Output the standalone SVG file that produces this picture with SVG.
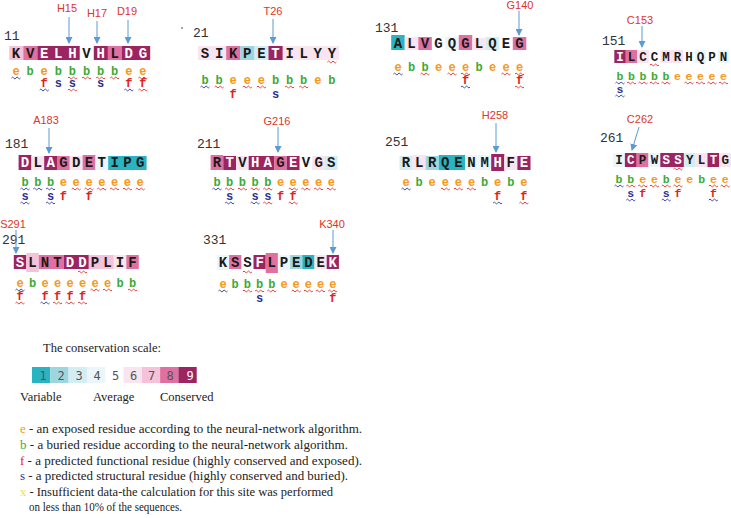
<svg xmlns="http://www.w3.org/2000/svg" xmlns:xlink="http://www.w3.org/1999/xlink" width="731" height="518" viewBox="0 0 731 518">
<style>
.num{font-family:"Liberation Mono",monospace;font-size:13px;fill:#333}
.res{font-family:"Liberation Mono",monospace;font-weight:bold;font-size:14px;fill:#1a1a1a;text-anchor:middle}
.sm{font-size:12.5px}
.w{fill:#fff}
.sym{font-family:"Liberation Mono",monospace;font-weight:bold;font-size:12px;text-anchor:middle}
.sym.sm{font-size:11.5px}
.e{fill:#f39a1e}.b{fill:#3daa36}.f{fill:#e2231a}.s{fill:#2e3192}.x{fill:#eee24a}
.lab{font-family:"Liberation Sans",sans-serif;font-size:11px;fill:#e0352b;text-anchor:middle}
.arr{stroke:#5b9bd5;stroke-width:1;fill:none;marker-end:url(#ah)}
.wr{stroke:#e0403a}.wb{stroke:#3a4aa8}
.g1{fill:#2ab3c0}.g2{fill:#9ed6df}.g3{fill:#d3edf2}.g4{fill:#eaf6f9}.g6{fill:#f8e5ef}.g7{fill:#f4c3da}.g8{fill:#e0709f}.g9{fill:#9b2461}
.leg{font-family:"Liberation Serif",serif;font-size:12.5px;fill:#222}
.sc{font-family:"DejaVu Sans Mono",monospace;font-size:12px;fill:#555;text-anchor:middle}
</style>
<defs>
<marker id="ah" markerWidth="7" markerHeight="7" refX="6" refY="3.5" orient="auto" markerUnits="userSpaceOnUse"><path d="M0,0 L7,3.5 L0,7 Z" fill="#5b9bd5"/></marker>
<path id="wv" d="M-4.5 0 q1.125 -1.8 2.25 0 t2.25 0 t2.25 0 t2.25 0" fill="none" stroke-width="1"/>
</defs>

<circle cx="182" cy="28" r="1" fill="#888"/>

<!-- Block 11 -->
<g id="blk11">
<text class="num" x="4" y="40">11</text>
<rect class="g7" x="9.2" y="46" width="14.1" height="14"/>
<rect class="g8" x="23.3" y="46" width="14.1" height="14"/>
<rect class="g9" x="37.4" y="46" width="42.3" height="14"/>
<rect class="g9" x="93.8" y="46" width="14.1" height="14"/>
<rect class="g8" x="107.9" y="46" width="14.1" height="14"/>
<rect class="g9" x="122" y="46" width="28.2" height="14"/>
<text class="res" x="16 30.1 86.5 114.7" y="58">KVVL</text>
<text class="res w" x="44.2 58.3 72.4 100.6 128.8 142.9" y="58">ELHHDG</text>
<text class="sym e" x="16 44.2 128.8 142.9" y="75">eeee</text>
<text class="sym b" x="30.1 58.3 72.4 86.5 100.6 114.7" y="75">bbbbbb</text>
<use xlink:href="#wv" class="wb" x="16" y="78"/>
<use xlink:href="#wv" class="wr" x="72.4" y="78"/><use xlink:href="#wv" class="wr" x="86.5" y="78"/><use xlink:href="#wv" class="wr" x="100.6" y="78"/><use xlink:href="#wv" class="wr" x="114.7" y="78"/><use xlink:href="#wv" class="wr" x="142.9" y="78"/>
<text class="sym f" x="44.2 128.8 142.9" y="87">fff</text>
<text class="sym s" x="58.3 72.4 100.6" y="87">sss</text>
<use xlink:href="#wv" class="wb" x="44.2" y="90"/><use xlink:href="#wv" class="wr" x="72.4" y="90"/><use xlink:href="#wv" class="wb" x="128.8" y="90"/><use xlink:href="#wv" class="wr" x="142.9" y="90"/>
</g>

<!-- Block 21 -->
<g id="blk21">
<text class="num" x="193" y="37">21</text>
<rect class="g6" x="198" y="46" width="141" height="14"/>
<rect class="g8" x="226.2" y="46" width="14.1" height="14"/>
<rect class="g2" x="240.3" y="46" width="14.1" height="14"/>
<rect class="g3" x="254.4" y="46" width="14.1" height="14"/>
<rect class="g9" x="268.5" y="46" width="14.1" height="14"/>
<text class="res" x="205 219.1 233.2 247.3 261.4 289.6 303.7 317.8 331.9" y="58">SIKPEILYY</text>
<text class="res w" x="275.5" y="58">T</text>
<use xlink:href="#wv" class="wr" x="331.9" y="62"/>
<text class="sym e" x="233.2 247.3 261.4 317.8" y="84">eeee</text>
<text class="sym b" x="205 219.1 275.5 289.6 303.7 331.9" y="84">bbbbbb</text>
<use xlink:href="#wv" class="wb" x="205" y="87"/><use xlink:href="#wv" class="wr" x="219.1" y="87"/><use xlink:href="#wv" class="wr" x="247.3" y="87"/><use xlink:href="#wv" class="wr" x="261.4" y="87"/><use xlink:href="#wv" class="wr" x="289.6" y="87"/><use xlink:href="#wv" class="wr" x="303.7" y="87"/>
<text class="sym f" x="233.2" y="98">f</text>
<text class="sym s" x="275.5" y="98">s</text>
</g>

<!-- Block 131 -->
<g id="blk131">
<text class="num" x="375" y="32">131</text>
<rect class="g1" x="391.2" y="35" width="13.5" height="15"/>
<rect class="g6" x="404.8" y="37" width="13.5" height="13"/>
<rect class="g8" x="418.3" y="37" width="13.5" height="13"/>
<rect class="g4" x="445.3" y="37" width="13.5" height="13"/>
<rect class="g8" x="458.8" y="35" width="13.5" height="15"/>
<rect class="g6" x="472.3" y="38" width="13.5" height="12"/>
<rect class="g3" x="485.8" y="37" width="13.5" height="13"/>
<rect class="g8" x="512.8" y="37" width="13.5" height="13"/>
<text class="res" x="398 411.5 425 438.5 452 465.5 479 492.5 506 519.5" y="48">ALVGQGLQEG</text>
<text class="sym e" x="398 438.5 452 465.5 492.5 506 519.5" y="71">eeeeeee</text>
<text class="sym b" x="411.5 425 479" y="71">bbb</text>
<use xlink:href="#wv" class="wb" x="398" y="74"/><use xlink:href="#wv" class="wr" x="425" y="74"/><use xlink:href="#wv" class="wr" x="452" y="74"/><use xlink:href="#wv" class="wr" x="465.5" y="74"/><use xlink:href="#wv" class="wr" x="506" y="74"/><use xlink:href="#wv" class="wr" x="519.5" y="74"/>
<text class="sym f" x="465.5 519.5" y="84">ff</text>
<use xlink:href="#wv" class="wb" x="465.5" y="87"/><use xlink:href="#wv" class="wr" x="519.5" y="87"/>
</g>

<!-- Block 151 -->
<g id="blk151">
<text class="num" x="602" y="45">151</text>
<rect class="g9" x="614.3" y="50" width="11.5" height="13"/>
<rect class="g8" x="625.8" y="50" width="11.5" height="13"/>
<rect class="g6" x="637.3" y="50" width="11.5" height="13"/>
<rect class="g6" x="660.3" y="50" width="23" height="13"/>
<rect class="g4" x="694.8" y="50" width="11.5" height="13"/>
<rect class="g4" x="717.8" y="50" width="11.5" height="13"/>
<text class="res sm" x="631.5 643 654.5 666 677.5 689 700.5 712 723.5" y="61">LCCMRHQPN</text>
<text class="res sm w" x="620" y="61">I</text>
<use xlink:href="#wv" class="wr" x="654.5" y="65"/>
<text class="sym b sm" x="620 631.5 643 654.5 666" y="80">bbbbb</text>
<text class="sym e sm" x="677.5 689 700.5 712 723.5" y="80">eeeee</text>
<use xlink:href="#wv" class="wb" x="620" y="83"/><use xlink:href="#wv" class="wr" x="631.5" y="83"/><use xlink:href="#wv" class="wr" x="643" y="83"/><use xlink:href="#wv" class="wr" x="654.5" y="83"/><use xlink:href="#wv" class="wr" x="666" y="83"/><use xlink:href="#wv" class="wr" x="689" y="83"/><use xlink:href="#wv" class="wr" x="700.5" y="83"/><use xlink:href="#wv" class="wr" x="712" y="83"/><use xlink:href="#wv" class="wr" x="723.5" y="83"/>
<text class="sym s sm" x="620" y="93">s</text>
<use xlink:href="#wv" class="wb" x="620" y="96"/>
</g>

<!-- Block 181 -->
<g id="blk181">
<text class="num" x="5" y="148">181</text>
<rect class="g9" x="18.6" y="155" width="12.8" height="15"/>
<rect class="g6" x="31.4" y="156" width="12.8" height="14"/>
<rect class="g9" x="44.2" y="156" width="12.8" height="14"/>
<rect class="g8" x="57" y="156" width="12.8" height="14"/>
<rect class="g6" x="69.8" y="156" width="12.8" height="14"/>
<rect class="g8" x="82.6" y="155" width="12.8" height="15"/>
<rect class="g4" x="95.4" y="156" width="12.8" height="14"/>
<rect class="g1" x="108.2" y="156" width="38.4" height="14"/>
<text class="res" x="37.8 63.4 76.2 89 101.8 114.6 127.4 140.2" y="167">LGDETIPG</text>
<text class="res w" x="25 50.6" y="167">DA</text>
<text class="sym b" x="25 37.8 50.6" y="186">bbb</text>
<text class="sym e" x="63.4 76.2 89 101.8 114.6 127.4 140.2" y="186">eeeeeee</text>
<use xlink:href="#wv" class="wb" x="25" y="189"/><use xlink:href="#wv" class="wb" x="37.8" y="189"/><use xlink:href="#wv" class="wb" x="50.6" y="189"/>
<use xlink:href="#wv" class="wr" x="76.2" y="189"/><use xlink:href="#wv" class="wr" x="89" y="189"/><use xlink:href="#wv" class="wr" x="101.8" y="189"/><use xlink:href="#wv" class="wr" x="114.6" y="189"/><use xlink:href="#wv" class="wr" x="127.4" y="189"/><use xlink:href="#wv" class="wr" x="140.2" y="189"/>
<text class="sym s" x="25 50.6" y="200">ss</text>
<text class="sym f" x="63.4 89" y="200">ff</text>
<use xlink:href="#wv" class="wb" x="25" y="203"/><use xlink:href="#wv" class="wb" x="50.6" y="203"/>
</g>

<!-- Block 211 -->
<g id="blk211">
<text class="num" x="197" y="148">211</text>
<rect class="g8" x="210.6" y="155" width="12.7" height="15"/>
<rect class="g9" x="223.3" y="156" width="12.7" height="14"/>
<rect class="g6" x="236" y="156" width="12.7" height="14"/>
<rect class="g9" x="248.7" y="156" width="25.4" height="14"/>
<rect class="g8" x="274.1" y="156" width="12.7" height="14"/>
<rect class="g9" x="286.8" y="156" width="12.7" height="14"/>
<rect class="g6" x="312.2" y="156" width="12.7" height="14"/>
<rect class="g3" x="324.9" y="156" width="12.7" height="14"/>
<text class="res" x="217 242.4 280.5 305.9 318.6 331.3" y="167">RVGVGS</text>
<text class="res w" x="229.7 255.1 267.8 293.2" y="167">THAE</text>
<text class="sym b" x="217 229.7 242.4 255.1 267.8" y="186">bbbbb</text>
<text class="sym e" x="280.5 293.2 305.9 318.6 331.3" y="186">eeeee</text>
<use xlink:href="#wv" class="wb" x="217" y="189"/><use xlink:href="#wv" class="wr" x="229.7" y="189"/><use xlink:href="#wv" class="wr" x="242.4" y="189"/><use xlink:href="#wv" class="wr" x="255.1" y="189"/><use xlink:href="#wv" class="wr" x="267.8" y="189"/>
<use xlink:href="#wv" class="wr" x="293.2" y="189"/><use xlink:href="#wv" class="wr" x="305.9" y="189"/><use xlink:href="#wv" class="wr" x="318.6" y="189"/><use xlink:href="#wv" class="wr" x="331.3" y="189"/>
<text class="sym s" x="229.7 255.1 267.8" y="200">sss</text>
<text class="sym f" x="280.5 293.2" y="200">ff</text>
<use xlink:href="#wv" class="wb" x="229.7" y="203"/><use xlink:href="#wv" class="wb" x="255.1" y="203"/><use xlink:href="#wv" class="wr" x="267.8" y="203"/><use xlink:href="#wv" class="wr" x="293.2" y="203"/>
</g>

<!-- Block 251 -->
<g id="blk251">
<text class="num" x="385" y="146">251</text>
<rect class="g3" x="399.5" y="156" width="13.1" height="14"/>
<rect class="g6" x="412.6" y="155" width="13.1" height="15"/>
<rect class="g2" x="425.7" y="156" width="13.1" height="14"/>
<rect class="g1" x="438.8" y="155" width="26.2" height="15"/>
<rect class="g4" x="465" y="155" width="26.2" height="15"/>
<rect class="g9" x="491.2" y="154" width="13.1" height="17"/>
<rect class="g6" x="504.3" y="156" width="13.1" height="14"/>
<rect class="g9" x="517.4" y="156" width="13.1" height="14"/>
<text class="res" x="406 419.1 432.2 445.3 458.4 471.5 484.6 510.8" y="167">RLRQENMF</text>
<text class="res w" x="497.7 523.9" y="167">HE</text>
<text class="sym e" x="406 432.2 445.3 458.4 471.5 497.7 523.9" y="186">eeeeeee</text>
<text class="sym b" x="419.1 484.6 510.8" y="186">bbb</text>
<use xlink:href="#wv" class="wb" x="406" y="189"/><use xlink:href="#wv" class="wr" x="445.3" y="189"/><use xlink:href="#wv" class="wr" x="458.4" y="189"/><use xlink:href="#wv" class="wr" x="471.5" y="189"/>
<text class="sym f" x="497.7 523.9" y="200">ff</text>
<use xlink:href="#wv" class="wb" x="497.7" y="203"/><use xlink:href="#wv" class="wr" x="523.9" y="203"/>
</g>

<!-- Block 261 -->
<g id="blk261">
<text class="num" x="600" y="142">261</text>
<rect class="g4" x="613.1" y="153" width="11.8" height="14"/>
<rect class="g9" x="624.9" y="153" width="11.8" height="14"/>
<rect class="g8" x="636.7" y="153" width="11.8" height="14"/>
<rect class="g4" x="648.5" y="153" width="11.8" height="14"/>
<rect class="g9" x="660.3" y="153" width="23.6" height="14"/>
<rect class="g3" x="683.9" y="153" width="11.8" height="14"/>
<rect class="g6" x="695.7" y="153" width="11.8" height="14"/>
<rect class="g9" x="707.5" y="153" width="11.8" height="14"/>
<rect class="g6" x="719.3" y="153" width="11.8" height="14"/>
<text class="res sm" x="619 642.6 654.4 689.8 701.6 725.2" y="164">IPWYLG</text>
<text class="res sm w" x="630.8 666.2 678 713.4" y="164">CSST</text>
<use xlink:href="#wv" class="wr" x="678" y="169"/>
<text class="sym b sm" x="619 630.8 666.2 701.6" y="183">bbbb</text>
<text class="sym e sm" x="642.6 654.4 678 689.8 713.4 725.2" y="183">eeeeee</text>
<use xlink:href="#wv" class="wb" x="619" y="186"/><use xlink:href="#wv" class="wr" x="630.8" y="186"/><use xlink:href="#wv" class="wr" x="642.6" y="186"/><use xlink:href="#wv" class="wr" x="654.4" y="186"/><use xlink:href="#wv" class="wr" x="666.2" y="186"/><use xlink:href="#wv" class="wr" x="678" y="186"/><use xlink:href="#wv" class="wr" x="713.4" y="186"/><use xlink:href="#wv" class="wr" x="725.2" y="186"/>
<text class="sym s sm" x="630.8 666.2" y="197">ss</text>
<text class="sym f sm" x="642.6 678 713.4" y="197">fff</text>
<use xlink:href="#wv" class="wb" x="630.8" y="200"/><use xlink:href="#wv" class="wb" x="666.2" y="200"/><use xlink:href="#wv" class="wb" x="713.4" y="200"/>
</g>

<!-- Block 291 -->
<g id="blk291">
<text class="num" x="2" y="244">291</text>
<rect class="g9" x="13.8" y="255" width="12.5" height="14"/>
<rect class="g7" x="26.3" y="253" width="12.5" height="19"/>
<rect class="g8" x="38.8" y="255" width="25" height="14"/>
<rect class="g9" x="63.8" y="255" width="25" height="14"/>
<rect class="g7" x="88.8" y="255" width="25" height="14"/>
<rect class="g6" x="113.8" y="255" width="12.5" height="14"/>
<rect class="g8" x="126.3" y="255" width="12.5" height="14"/>
<text class="res" x="32.5 45 57.5 95 107.5 120 132.5" y="267">LNTPLIF</text>
<text class="res w" x="20 70 82.5" y="267">SDD</text>
<use xlink:href="#wv" class="wr" x="82.5" y="272"/>
<text class="sym e" x="20 45 57.5 70 82.5 95 107.5" y="287">eeeeeee</text>
<text class="sym b" x="32.5 120 132.5" y="287">bbb</text>
<use xlink:href="#wv" class="wb" x="20" y="290"/><use xlink:href="#wv" class="wr" x="95" y="290"/><use xlink:href="#wv" class="wr" x="107.5" y="290"/><use xlink:href="#wv" class="wr" x="132.5" y="290"/>
<text class="sym f" x="20 45 57.5 70 82.5" y="300">fffff</text>
<use xlink:href="#wv" class="wr" x="20" y="303"/><use xlink:href="#wv" class="wb" x="45" y="303"/><use xlink:href="#wv" class="wr" x="57.5" y="303"/><use xlink:href="#wv" class="wr" x="70" y="303"/><use xlink:href="#wv" class="wr" x="82.5" y="303"/>
</g>

<!-- Block 331 -->
<g id="blk331">
<text class="num" x="203" y="244">331</text>
<rect class="g4" x="216.9" y="255" width="12.2" height="15"/>
<rect class="g8" x="229.1" y="255" width="12.2" height="14"/>
<rect class="g9" x="253.5" y="255" width="12.2" height="14"/>
<rect class="g8" x="265.7" y="253" width="12.2" height="20"/>
<rect class="g4" x="277.9" y="255" width="12.2" height="15"/>
<rect class="g2" x="290.1" y="255" width="12.2" height="14"/>
<rect class="g1" x="302.3" y="255" width="12.2" height="14"/>
<rect class="g6" x="314.5" y="255" width="12.2" height="14"/>
<rect class="g9" x="326.7" y="255" width="12.2" height="14"/>
<text class="res" x="223 235.2 247.4 271.8 284 296.2 308.4 320.6" y="267">KSSLPEDE</text>
<text class="res w" x="259.6 332.8" y="267">FK</text>
<use xlink:href="#wv" class="wr" x="247.4" y="272"/>
<text class="sym e" x="223 284 296.2 308.4 320.6 332.8" y="288">eeeeee</text>
<text class="sym b" x="235.2 247.4 259.6 271.8" y="288">bbbb</text>
<use xlink:href="#wv" class="wb" x="223" y="291"/><use xlink:href="#wv" class="wr" x="247.4" y="291"/><use xlink:href="#wv" class="wr" x="259.6" y="291"/><use xlink:href="#wv" class="wr" x="271.8" y="291"/><use xlink:href="#wv" class="wr" x="296.2" y="291"/><use xlink:href="#wv" class="wr" x="308.4" y="291"/><use xlink:href="#wv" class="wr" x="320.6" y="291"/><use xlink:href="#wv" class="wr" x="332.8" y="291"/>
<text class="sym s" x="259.6" y="302">s</text>
<text class="sym f" x="332.8" y="302">f</text>
</g>

<!-- Site labels -->
<g id="labels">
<text class="lab" x="67" y="12">H15</text>
<text class="lab" x="97" y="17">H17</text>
<text class="lab" x="127" y="15">D19</text>
<text class="lab" x="273" y="15">T26</text>
<text class="lab" x="520" y="9">G140</text>
<text class="lab" x="640" y="24">C153</text>
<text class="lab" x="46" y="124">A183</text>
<text class="lab" x="277" y="125">G216</text>
<text class="lab" x="495" y="119">H258</text>
<text class="lab" x="640" y="123">C262</text>
<text class="lab" x="13" y="228">S291</text>
<text class="lab" x="332" y="228">K340</text>
</g>

<!-- Connectors -->
<g id="connectors">
<line class="arr" x1="69" y1="17" x2="69" y2="43"/>
<line class="arr" x1="97" y1="21" x2="97" y2="43"/>
<line class="arr" x1="128" y1="20" x2="128" y2="43"/>
<line class="arr" x1="273" y1="19" x2="273" y2="43"/>
<line class="arr" x1="519" y1="11" x2="519" y2="35"/>
<line class="arr" x1="642" y1="26" x2="642" y2="47"/>
<line class="arr" x1="49" y1="128" x2="49" y2="153"/>
<line class="arr" x1="278" y1="127" x2="278" y2="152"/>
<line class="arr" x1="496" y1="123" x2="496" y2="152"/>
<line class="arr" x1="639" y1="127" x2="632" y2="150"/>
<line class="arr" x1="16" y1="230" x2="16" y2="253"/>
<line class="arr" x1="333" y1="230" x2="333" y2="253"/>
</g>

<!-- Legend -->
<g id="legend">
<text class="leg" x="43" y="352">The conservation scale:</text>
<rect class="g1" x="32" y="367" width="18.3" height="16"/>
<rect class="g2" x="50.3" y="367" width="18.3" height="16"/>
<rect class="g3" x="68.6" y="367" width="18.3" height="16"/>
<rect class="g4" x="86.9" y="367" width="18.3" height="16"/>
<rect class="g6" x="123.5" y="367" width="18.3" height="16"/>
<rect class="g7" x="141.8" y="367" width="18.3" height="16"/>
<rect class="g8" x="160.1" y="367" width="18.3" height="16"/>
<rect class="g9" x="178.4" y="367" width="18.3" height="16"/>
<text class="sc" x="43 61 79 97 115.5 133.5 151.5 170" y="380">12345678</text>
<text class="sc" x="190" y="380" style="fill:#fff">9</text>
<text class="leg" x="20" y="401">Variable</text>
<text class="leg" x="93" y="401">Average</text>
<text class="leg" x="160" y="401">Conserved</text>
<text class="leg" x="20" y="433" textLength="342" lengthAdjust="spacingAndGlyphs"><tspan class="e">e</tspan> - an exposed residue according to the neural-network algorithm.</text>
<text class="leg" x="20" y="449" textLength="328" lengthAdjust="spacingAndGlyphs"><tspan class="b">b</tspan> - a buried residue according to the neural-network algorithm.</text>
<text class="leg" x="20" y="464.5" textLength="342" lengthAdjust="spacingAndGlyphs"><tspan class="f">f</tspan> - a predicted functional residue (highly conserved and exposed).</text>
<text class="leg" x="20" y="480" textLength="328" lengthAdjust="spacingAndGlyphs"><tspan class="s">s</tspan> - a predicted structural residue (highly conserved and buried).</text>
<text class="leg" x="20" y="495.5" textLength="313" lengthAdjust="spacingAndGlyphs"><tspan class="x">x</tspan> - Insufficient data-the calculation for this site was performed</text>
<text class="leg" x="29" y="511" textLength="153" lengthAdjust="spacingAndGlyphs">on less than 10% of the sequences.</text>
</g>
</svg>
